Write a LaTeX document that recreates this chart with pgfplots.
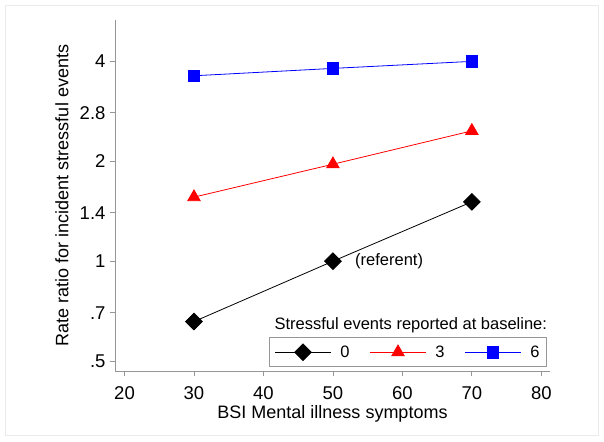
\documentclass[border=0pt]{standalone}
\usepackage{pgfplots}
\pgfplotsset{compat=1.18}
\usepackage{fontspec}
\setmainfont{Liberation Sans}
\definecolor{axgray}{RGB}{150,150,150}
\begin{document}
\begin{tikzpicture}
\begin{axis}[
  at={(0,0)}, anchor=south west,
  scale only axis, width=435pt, height=351pt,
  xmin=18.63, xmax=81.25,
  ymode=log, ymin=0.467, ymax=5.33,
  axis lines=left, axis line style={-, axgray, line width=0.8pt},
  tick style={axgray, line width=0.8pt}, tick align=outside, major tick length=5pt,
  xtick={20,30,40,50,60,70,80},
  xticklabels={20,30,40,50,60,70,80},
  ytick={0.5,0.7,1,1.4,2,2.8,4},
  yticklabels={.5,.7,1,1.4,2,2.8,4},
  minor ytick={}, 
  /pgf/number format/assume math mode=true,
  tick label style={font=\fontsize{18.5}{20}\selectfont},
  xticklabel style={inner sep=0pt, yshift=-10pt},
  yticklabel style={xshift=-1pt},
  xlabel={BSI Mental illness symptoms},
  ylabel={Rate ratio for incident stressful events},
  label style={font=\fontsize{18}{21}\selectfont, inner sep=0pt},
  xlabel style={at={(rel axis cs:0.5,0)}, anchor=center, yshift=-43pt},
  ylabel style={at={(rel axis cs:0,0.5)}, anchor=center, yshift=53pt},
  clip=false,
  legend columns=3,
  legend style={at={(rel axis cs:0.993,0.011)}, anchor=south east,
    draw=axgray, line width=0.8pt, font=\fontsize{16.5}{19}\selectfont,
    inner xsep=5pt, inner ysep=6pt,
    /tikz/every odd column/.append style={column sep=7pt},
    /tikz/every even column/.append style={column sep=18pt}},
  legend image code/.code={\draw[mark repeat=2, mark phase=2, line width=0.8pt] plot coordinates {(0pt,0pt) (28pt,0pt) (56pt,0pt)};},
]
\addplot[black, line width=0.8pt, mark=square*, mark size=5.9pt, mark options={rotate=45, solid}]
  coordinates {(30,0.658) (50,1) (70,1.51)};
\addlegendentry{0}
\addplot[red, line width=0.8pt, mark=triangle*, mark size=7.2pt, mark options={solid}]
  coordinates {(30,1.56) (50,1.96) (70,2.47)};
\addlegendentry{3}
\addplot[blue, line width=0.8pt, mark=square*, mark size=5.7pt, mark options={solid}]
  coordinates {(30,3.62) (50,3.81) (70,4.0)};
\addlegendentry{6}
\node[anchor=west, font=\fontsize{16.5}{19}\selectfont] at (axis cs:52.7,1) {(referent)};
\node[anchor=center, font=\fontsize{16.5}{19}\selectfont] at (rel axis cs:0.680,0.131) {Stressful events reported at baseline:};
\end{axis}
\draw[black!8, line width=0.8pt] (-110pt,-64pt) rectangle (483pt,366pt);
\path (-115pt,-70pt) rectangle (489pt,371pt);
\end{tikzpicture}
\end{document}
